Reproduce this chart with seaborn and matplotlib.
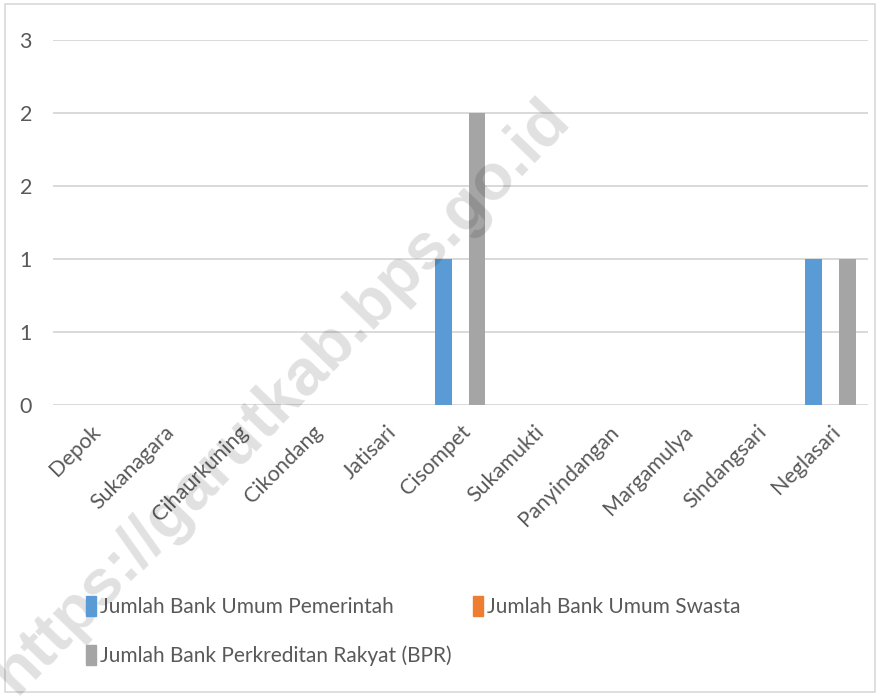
import matplotlib
matplotlib.use('Agg')
import matplotlib.pyplot as plt
import seaborn as sns
import pandas as pd
from matplotlib.patches import Rectangle, Patch

desa = ['Depok', 'Sukanagara', 'Cihaurkuning', 'Cikondang', 'Jatisari', 'Cisompet',
        'Sukamukti', 'Panyindangan', 'Margamulya', 'Sindangsari', 'Neglasari']
bank_pemerintah = [0, 0, 0, 0, 0, 1, 0, 0, 0, 0, 1]
bank_swasta = [0, 0, 0, 0, 0, 0, 0, 0, 0, 0, 0]
bank_bpr = [0, 0, 0, 0, 0, 2, 0, 0, 0, 0, 1]
seri = ['Jumlah Bank Umum Pemerintah', 'Jumlah Bank Umum Swasta', 'Jumlah Bank Perkreditan Rakyat (BPR)']
warna = ['#5B9BD5', '#ED7D31', '#A5A5A5']
y_ticks = [0, 0.5, 1, 1.5, 2, 2.5]
y_labels = ['0', '1', '1', '2', '2', '3']

df = pd.DataFrame({'desa': desa, seri[0]: bank_pemerintah, seri[1]: bank_swasta, seri[2]: bank_bpr})
df = df.melt(id_vars='desa', var_name='jenis', value_name='jumlah')

sns.set_style('white')
plt.rcParams['font.family'] = ['Lato', 'DejaVu Sans']

fig = plt.figure(figsize=(8.8, 6.96), dpi=100)
ax = fig.add_axes([0.060, 0.418, 0.926, 0.5245])

sns.barplot(data=df, x='desa', y='jumlah', hue='jenis', hue_order=seri, palette=warna,
            width=0.68, gap=0, linewidth=0, saturation=1, ax=ax, legend=False)

ax.set_ylim(0, 2.5)
ax.set_xlim(-0.5, len(desa) - 0.5)
ax.set_yticks(y_ticks)
ax.set_yticklabels(y_labels)
ax.yaxis.grid(True, color='#D9D9D9', linewidth=1.4)
ax.set_axisbelow(True)
for s in ax.spines.values():
    s.set_visible(False)
ax.tick_params(axis='both', length=0, labelsize=15.5, colors='#595959')
ax.tick_params(axis='y', pad=15)
ax.tick_params(axis='x', pad=12)
plt.setp(ax.get_xticklabels(), rotation=45, ha='right', rotation_mode='anchor')
ax.set_xlabel('')
ax.set_ylabel('')

# legend: Excel fills rows, so reorder for column-major filling
handles = [Patch(color=c, label=l) for c, l in zip(warna, seri)]
order = [0, 2, 1]
fig.legend([handles[i] for i in order], [seri[i] for i in order], ncol=2, frameon=False,
           loc='upper left', bbox_to_anchor=(0.088, 0.155), fontsize=15, labelcolor='#595959',
           handlelength=0.5, handleheight=1.05, handletextpad=0.2, columnspacing=1.0,
           labelspacing=1.35, borderaxespad=0)

# chart border
fig.patches.append(Rectangle((0.006, 0.006), 0.988, 0.988, transform=fig.transFigure,
                             fill=False, edgecolor='#D9D9D9', linewidth=1.2))

# watermark
fig.text(0.32, 0.43, 'https://garutkab.bps.go.id', rotation=46, ha='center', va='center',
         fontsize=47, fontweight='bold', family='Liberation Sans', color='black', alpha=0.12)

fig.savefig('out.png', dpi=100)
